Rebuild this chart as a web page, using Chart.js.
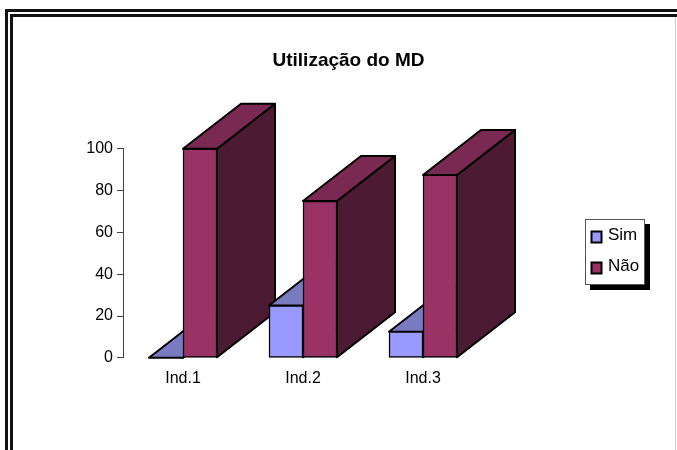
<!DOCTYPE html>
<html>
<head>
<meta charset="utf-8">
<style>
html, body { margin: 0; padding: 0; background: #fff; }
#wrap { width: 677px; height: 450px; }
</style>
<script src="https://cdn.jsdelivr.net/npm/chart.js@4"></script>
</head>
<body>
<div id="wrap"><canvas id="mdChart" width="677" height="450"></canvas></div>
<script>
const categories = ['Ind.1', 'Ind.2', 'Ind.3'];
const simValues = [0, 25, 12.5];
const naoValues = [100, 75, 87.5];
const yTicks = [0, 20, 40, 60, 80, 100];

const FONT = '"Liberation Sans", Arial, sans-serif';
const DEPTH_X = 58;
const DEPTH_Y = 45;

function poly(ctx, pts, fill) {
    ctx.beginPath();
    pts.forEach((p, i) => i ? ctx.lineTo(p[0], p[1]) : ctx.moveTo(p[0], p[1]));
    ctx.closePath();
    ctx.fillStyle = fill;
    ctx.fill();
    ctx.stroke();
}

// frame around the picture
const framePlugin = {
    id: 'frame',
    beforeDraw(chart) {
        const ctx = chart.ctx;
        ctx.save();
        ctx.fillStyle = '#fff';
        ctx.fillRect(0, 0, chart.width, chart.height);
        ctx.strokeStyle = '#111';
        ctx.lineWidth = 3;
        ctx.strokeRect(6.5, 10.5, 800, 600);
        ctx.strokeRect(11.5, 15.5, 800, 600);
        ctx.strokeStyle = '#ccc';
        ctx.lineWidth = 1;
        ctx.beginPath();
        ctx.moveTo(675.5, 17);
        ctx.lineTo(675.5, 450);
        ctx.stroke();
        ctx.restore();
    }
};

// 3D look: the library's bars get a top and a side face, category by category
const bars3dPlugin = {
    id: 'bars3d',
    afterLayout(chart) {
        // title sits over the plot, not over the middle of the canvas
        chart.titleBlock.left += 100;
        chart.titleBlock.right += 100;
    },
    beforeDatasetDraw() {
        return false;
    },
    afterDatasetsDraw(chart) {
        const ctx = chart.ctx;
        const shades = [
            { top: '#7a7ac0', side: '#4d4d80' },
            { top: '#7a2952', side: '#4d1a33' }
        ];
        categories.forEach((c, i) => {
            chart.data.datasets.forEach((ds, d) => {
                const bar = chart.getDatasetMeta(d).data[i];
                const l = bar.x - bar.width / 2;
                const r = bar.x + bar.width / 2;
                ctx.save();
                ctx.strokeStyle = '#000';
                ctx.lineWidth = 2;
                ctx.lineJoin = 'round';
                poly(ctx, [[r, bar.y], [r + DEPTH_X, bar.y - DEPTH_Y], [r + DEPTH_X, bar.base - DEPTH_Y], [r, bar.base]], shades[d].side);
                poly(ctx, [[l, bar.y], [r, bar.y], [r + DEPTH_X, bar.y - DEPTH_Y], [l + DEPTH_X, bar.y - DEPTH_Y]], shades[d].top);
                ctx.restore();
                bar.draw(ctx);
            });
        });
    }
};

// legend box with drop shadow, right of the plot
const legendPlugin = {
    id: 'legendBox',
    afterDraw(chart) {
        const ctx = chart.ctx;
        ctx.save();
        ctx.fillStyle = '#000';
        ctx.fillRect(590, 224, 60, 66);
        ctx.fillStyle = '#fff';
        ctx.strokeStyle = '#555';
        ctx.lineWidth = 1;
        ctx.fillRect(585.5, 219.5, 59, 65);
        ctx.strokeRect(585.5, 219.5, 59, 65);
        chart.data.datasets.forEach((ds, d) => {
            const y = 235 + d * 31;
            ctx.fillStyle = ds.backgroundColor;
            ctx.strokeStyle = '#000';
            ctx.lineWidth = 2;
            ctx.fillRect(591.5, y - 3.5, 10, 11);
            ctx.strokeRect(591.5, y - 3.5, 10, 11);
            ctx.fillStyle = '#000';
            ctx.font = '17px ' + FONT;
            ctx.textBaseline = 'middle';
            ctx.fillText(ds.label, 608, y);
        });
        ctx.restore();
    }
};

new Chart(document.getElementById('mdChart'), {
    type: 'bar',
    data: {
        labels: categories,
        datasets: [
            { label: 'Sim', data: simValues, backgroundColor: '#9999ff', borderColor: '#000', borderWidth: 1.5, borderSkipped: false, barThickness: 34 },
            { label: 'Não', data: naoValues, backgroundColor: '#993366', borderColor: '#000', borderWidth: 1.5, borderSkipped: false, barThickness: 34 }
        ]
    },
    options: {
        responsive: false,
        animation: false,
        layout: { padding: { left: 14, right: 194, top: 42, bottom: 59 } },
        plugins: {
            legend: { display: false },
            tooltip: { enabled: false },
            title: {
                display: true,
                text: 'Utilização do MD',
                color: '#000',
                font: { family: FONT, size: 19, weight: 'bold' },
                padding: { top: 7, bottom: 77 }
            }
        },
        scales: {
            x: {
                grid: { display: false },
                border: { display: false },
                ticks: { color: '#000', font: { family: FONT, size: 16 }, padding: 3, maxRotation: 0 }
            },
            y: {
                min: 0,
                max: 100,
                afterFit(scale) { scale.width = 109; },
                afterBuildTicks(scale) { scale.ticks = yTicks.map(v => ({ value: v })); },
                grid: { drawOnChartArea: false, drawTicks: true, tickLength: 6, color: '#444' },
                border: { display: true, color: '#444', width: 1 },
                ticks: { color: '#000', font: { family: FONT, size: 16 }, padding: 4 }
            }
        }
    },
    plugins: [framePlugin, bars3dPlugin, legendPlugin]
});
</script>
</body>
</html>
